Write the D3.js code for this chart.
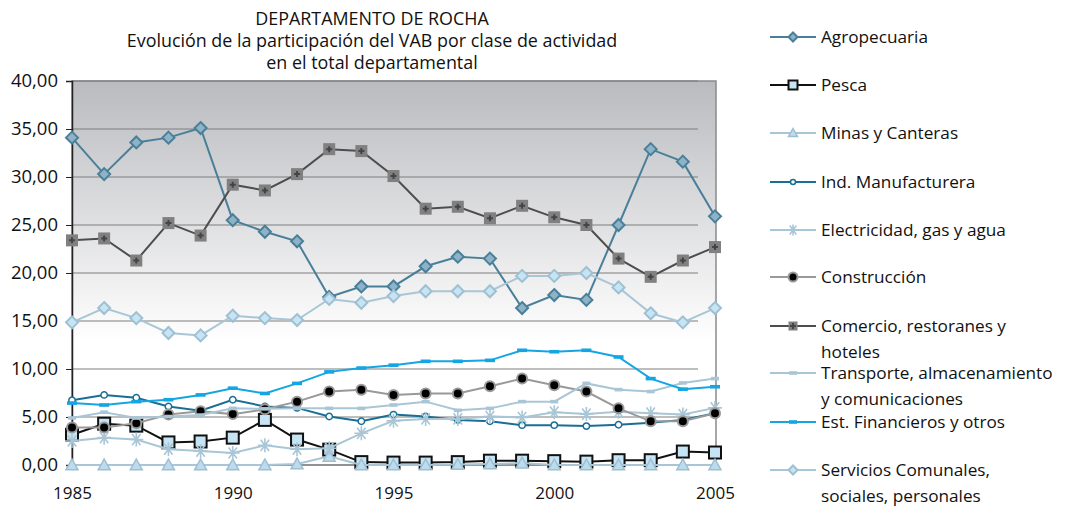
<!DOCTYPE html>
<html><head><meta charset="utf-8">
<script src="https://cdn.jsdelivr.net/npm/d3@7"></script>
<style>body{margin:0;background:#fff}svg{display:block}text{font-family:"Open Sans",sans-serif;fill:#111}</style>
</head><body>
<svg id="c" width="1072" height="506"></svg>
<script>
const years = d3.range(1985, 2006);
const seriesNames = ["Agropecuaria","Pesca","Minas y Canteras","Ind. Manufacturera","Electricidad, gas y agua","Construcción","Comercio, restoranes y hoteles","Transporte, almacenamiento y comunicaciones","Est. Financieros y otros","Servicios Comunales, sociales, personales"];
const agropecuaria = [34.1,30.3,33.6,34.1,35.1,25.5,24.3,23.3,17.5,18.6,18.6,20.7,21.7,21.5,16.35,17.7,17.2,25.0,32.9,31.6,25.9];
const pesca = [3.15,4.3,4.1,2.35,2.45,2.85,4.7,2.65,1.6,0.3,0.25,0.25,0.3,0.45,0.45,0.4,0.35,0.5,0.5,1.4,1.3];
const minas = [0,0,0,0,0,0,0,0.1,0.9,0,0,0,0.05,0.1,0.2,0,0,0,0,0,0];
const manufacturera = [6.75,7.3,7.0,6.1,5.65,6.8,6.1,5.95,5.05,4.55,5.25,5.05,4.7,4.55,4.15,4.15,4.05,4.2,4.4,4.7,5.4];
const electricidad = [2.5,2.85,2.65,1.65,1.45,1.25,2.05,1.65,1.75,3.3,4.6,4.8,4.8,5.05,4.95,5.5,5.3,5.55,5.4,5.25,5.95];
const construccion = [3.9,3.9,4.35,5.25,5.6,5.3,5.8,6.6,7.65,7.85,7.3,7.45,7.45,8.2,9.0,8.3,7.65,5.9,4.55,4.55,5.4];
const comercio = [23.4,23.6,21.3,25.2,23.9,29.2,28.6,30.3,32.9,32.7,30.1,26.7,26.9,25.7,27.0,25.8,25.0,21.5,19.6,21.3,22.7];
const transporte = [4.9,5.5,4.9,5.05,5.2,5.9,5.85,5.9,5.9,5.9,6.25,6.6,5.7,5.9,6.6,6.6,8.5,7.85,7.65,8.55,9.0];
const financieros = [6.45,6.25,6.6,6.8,7.3,8.0,7.45,8.5,9.7,10.1,10.4,10.8,10.8,10.9,11.95,11.8,11.95,11.25,9.0,7.9,8.15];
const servicios = [14.86,16.35,15.3,13.75,13.5,15.55,15.3,15.1,17.3,16.9,17.6,18.1,18.1,18.1,19.7,19.7,20.0,18.5,15.8,14.86,16.35];
const yTicks = [0,5,10,15,20,25,30,35,40];
const xTicks = [1985,1990,1995,2000,2005];
const titleLines = ["DEPARTAMENTO DE ROCHA","Evolución de la participación del VAB por clase de actividad","en el total departamental"];

const values = [agropecuaria,pesca,minas,manufacturera,electricidad,construccion,comercio,transporte,financieros,servicios];
const styles = [
  {line:"#4a7f99", marker:"diamond", fill:"#8fb3c6", stroke:"#4a7f99", size:6},
  {line:"#111", marker:"square", fill:"#c6e4f4", stroke:"#111", size:6},
  {line:"#a9c6d6", marker:"triangle", fill:"#bcdcee", stroke:"#9fbfd0", size:6},
  {line:"#1a6e96", marker:"circle", fill:"#fff", stroke:"#1a6e96", size:3.2},
  {line:"#a9c6d6", marker:"star", fill:"none", stroke:"#a9c6d6", size:7},
  {line:"#999", marker:"dot", fill:"#000", stroke:"#999", size:5},
  {line:"#4d4d4d", marker:"plussq", fill:"#808080", stroke:"#444", size:6},
  {line:"#a9c6d6", marker:"dash", fill:"#a9c6d6", stroke:"none", size:4},
  {line:"#14a5e3", marker:"dash", fill:"#14a5e3", stroke:"none", size:5},
  {line:"#a9c6d6", marker:"diamond", fill:"#c6e4f4", stroke:"#9fc0d2", size:6}
];
const legendLines = [["Agropecuaria"],["Pesca"],["Minas y Canteras"],["Ind. Manufacturera"],["Electricidad, gas y agua"],["Construcción"],["Comercio, restoranes y","hoteles"],["Transporte, almacenamiento","y comunicaciones"],["Est. Financieros y otros"],["Servicios Comunales,","sociales, personales"]];
const legendY = [37,85,133,182,230,277,326,373,422,470];

const svg = d3.select("#c");
const L = 72, R = 716, T = 81, B = 465;
const x = d3.scaleLinear().domain([1985,2005]).range([L, 715]);
const y = d3.scaleLinear().domain([0,40]).range([B, T]);

const defs = svg.append("defs");
const g = defs.append("linearGradient").attr("id","bg").attr("x1",0).attr("x2",0).attr("y1",0).attr("y2",1);
g.append("stop").attr("offset","0").attr("stop-color","#babbbf");
g.append("stop").attr("offset","0.68").attr("stop-color","#ffffff");
g.append("stop").attr("offset","1").attr("stop-color","#ffffff");

svg.append("rect").attr("x",L).attr("y",T).attr("width",R-L).attr("height",B-T).attr("fill","url(#bg)").attr("stroke","#8a8a8a").attr("stroke-width",1.5);

// gridlines
svg.append("g").selectAll("line").data(yTicks).join("line")
  .attr("x1",L).attr("x2",698).attr("y1",d=>y(d)).attr("y2",d=>y(d))
  .attr("stroke","#7f7f7f").attr("stroke-width",1.2);

// y axis
const fmt = d => d3.format(".2f")(d).replace(".",",");
const ya = svg.append("g").attr("transform",`translate(${L},0)`).call(d3.axisLeft(y).tickValues(yTicks).tickFormat(fmt).tickSize(6).tickPadding(8));
ya.select(".domain").attr("stroke","#222").attr("stroke-width",1.5);
ya.selectAll(".tick line").attr("stroke","#222");
ya.selectAll("text").style("font-size","18.5px").attr("fill","#111");

// x axis labels
const xa = svg.append("g").attr("transform",`translate(0,${B})`).call(d3.axisBottom(x).tickValues(xTicks).tickFormat(d3.format("d")).tickSize(0).tickPadding(22));
xa.select(".domain").remove();
xa.selectAll("text").style("font-size","17px").attr("fill","#111");

function drawMarker(sel, st){
  const s = st.size;
  if(st.marker==="diamond") sel.append("path").attr("d",`M0,${-s}L${s},0L0,${s}L${-s},0Z`).attr("fill",st.fill).attr("stroke",st.stroke).attr("stroke-width",2);
  else if(st.marker==="square") sel.append("rect").attr("x",-s).attr("y",-s).attr("width",2*s).attr("height",2*s).attr("fill",st.fill).attr("stroke",st.stroke).attr("stroke-width",2);
  else if(st.marker==="triangle") sel.append("path").attr("d",`M0,${-s}L${s},${s*0.8}L${-s},${s*0.8}Z`).attr("fill",st.fill).attr("stroke",st.stroke).attr("stroke-width",1.5);
  else if(st.marker==="circle") sel.append("circle").attr("r",s).attr("fill",st.fill).attr("stroke",st.stroke).attr("stroke-width",1.5);
  else if(st.marker==="star") sel.append("path").attr("d",`M${-s},0L${s},0M${-s*0.6},${-s*0.8}L${s*0.6},${s*0.8}M${-s*0.6},${s*0.8}L${s*0.6},${-s*0.8}M0,${-s}L0,${s}`).attr("stroke",st.stroke).attr("stroke-width",1.6).attr("fill","none");
  else if(st.marker==="dot") sel.append("circle").attr("r",s).attr("fill",st.fill).attr("stroke",st.stroke).attr("stroke-width",2);
  else if(st.marker==="plussq"){
    sel.append("rect").attr("x",-s).attr("y",-s).attr("width",2*s).attr("height",2*s).attr("fill",st.fill);
    sel.append("path").attr("d",`M-3,0L3,0M0,-3L0,3`).attr("stroke",st.stroke).attr("stroke-width",2);
  }
  else if(st.marker==="dash") sel.append("rect").attr("x",-s).attr("y",-1.8).attr("width",2*s).attr("height",3.6).attr("fill",st.fill);
}

const line = d3.line().x((d,i)=>x(years[i])).y(d=>y(d));
values.forEach((vals, k) => {
  const st = styles[k];
  const gg = svg.append("g");
  gg.append("path").attr("d", line(vals)).attr("fill","none").attr("stroke",st.line).attr("stroke-width",2);
  vals.forEach((v,i)=>{
    const m = gg.append("g").attr("transform",`translate(${x(years[i])},${y(v)})`);
    drawMarker(m, st);
  });
});

// legend
const lg = svg.append("g");
legendLines.forEach((lines,k)=>{
  const st = styles[k];
  const ly = legendY[k];
  lg.append("line").attr("x1",770).attr("x2",816).attr("y1",ly).attr("y2",ly).attr("stroke",st.line).attr("stroke-width",2);
  const m = lg.append("g").attr("transform",`translate(793,${ly})`);
  drawMarker(m, Object.assign({}, st, {size: st.marker==="circle"?2.5: st.marker==="dash"? 4 : st.marker==="star"?5.5:4.5}));
  lines.forEach((t,j)=>{
    lg.append("text").attr("x",821).attr("y",ly + j*26).attr("dy","0.35em").style("font-size","17.2px").text(t);
  });
});

// title
svg.append("g").selectAll("text").data(titleLines).join("text")
  .attr("x",372).attr("y",(d,i)=>19 + i*22).attr("dy","0.35em").attr("text-anchor","middle")
  .style("font-size","17.9px").text(d=>d);
</script>
</body></html>
